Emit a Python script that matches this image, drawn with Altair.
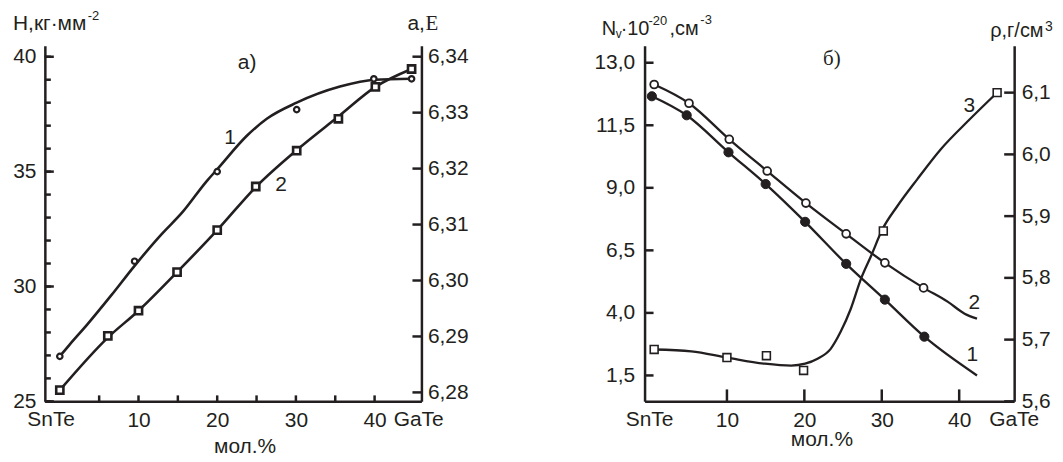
import altair as alt
import pandas as pd

INK = "#231f20"
TICKC = INK
SANS = "Liberation Sans"
SERIF = "Liberation Serif"

# ---------------- panel a) ----------------
a_circ_x = [0, 9.5, 20, 30.1, 39.9, 44.7]
a_circ_H = [26.96, 31.1, 35.0, 37.7, 39.04, 39.04]
a_curve1_x = [0, 1.2, 3.5, 6.5, 9.5, 13, 15.5, 18.7, 20, 23.8, 26.3, 30.1, 35.6, 40, 44.7]
a_curve1_H = [26.96, 27.45, 28.35, 29.6, 30.9, 32.3, 33.2, 34.6, 35.1, 36.57, 37.3, 38.0, 38.7, 39.0, 39.04]
a_sq_x = [0, 6.1, 10, 14.9, 20, 24.9, 30.1, 35.4, 40.1, 44.7]
a_sq_a = [6.2804, 6.2901, 6.2946, 6.3015, 6.3090, 6.3168, 6.3232, 6.3289, 6.3346, 6.3378]
a_curve2_x = [0, 6.1, 10, 14.9, 20, 24.9, 30.1, 35.4, 40.1, 44.7]
a_curve2_a = [6.2804, 6.2898, 6.2946, 6.3015, 6.3090, 6.3167, 6.3233, 6.3293, 6.3346, 6.3378]
a_left_ticks = list(range(25, 41))
a_left_major = [25, 30, 35, 40]
a_right_ticks = [6.28, 6.29, 6.30, 6.31, 6.32, 6.33, 6.34]
a_x_ticks = [5, 10, 15, 20, 25, 30, 35, 40]
a_end_labels = ["SnTe", "GaTe"]
a_end_x = [-1.1, 45.6]

# ---------------- panel б) ----------------
b_open_x = [0.6, 5.1, 10.3, 15.2, 20.2, 25.4, 30.4, 35.4]
b_open_N = [13.13, 12.38, 10.94, 9.67, 8.39, 7.16, 6.0, 5.0]
b_curve2_x = [0.6, 5.1, 10.3, 15.2, 20.2, 25.4, 30.4, 35.4, 38.5, 40.7, 42.3]
b_curve2_N = [13.13, 12.38, 10.94, 9.67, 8.39, 7.16, 6.0, 5.0, 4.45, 3.97, 3.77]
b_fill_x = [0.3, 4.8, 10.2, 15.0, 20.1, 25.4, 30.4, 35.5]
b_fill_N = [12.66, 11.9, 10.42, 9.15, 7.64, 5.96, 4.53, 3.05]
b_curve1_x = [0.3, 4.8, 10.2, 15.0, 20.1, 25.4, 30.4, 35.5, 42.3]
b_curve1_N = [12.66, 11.9, 10.42, 9.15, 7.64, 5.96, 4.53, 3.05, 1.5]
b_sq_x = [0.6, 10.0, 15.1, 19.9, 30.2, 44.9]
b_sq_r = [5.684, 5.671, 5.674, 5.650, 5.876, 6.1]
b_curve3_x = [0.6, 5.4, 10.0, 14.9, 18.3, 20.1, 21.7, 23.4, 24.7, 26.0, 27.3, 28.6, 30.1, 32.0, 34.6, 37.6, 41.3, 44.9]
b_curve3_r = [5.684, 5.681, 5.671, 5.661, 5.658, 5.661, 5.669, 5.685, 5.713, 5.750, 5.798, 5.835, 5.879, 5.916, 5.960, 6.008, 6.056, 6.1]
b_left_ticks = [1.5, 4.0, 6.5, 9.0, 11.5, 14.0]
b_right_ticks = [5.6, 5.7, 5.8, 5.9, 6.0, 6.1]
b_x_ticks = [10, 20, 30, 40]
b_end_labels = ["SnTe", "GaTe"]
b_end_x = [0, 47.1]

A_W, B_W, H = 378, 371, 357
a_x_dom = [-1.9, 45.95]
a_H_dom = [25, 40.48]
a_a_dom = [6.2784, 6.34196]
b_x_dom = [-0.64, 47.1]
b_N_dom = [0.464, 14.68]
b_r_dom = [5.6, 6.176]
TW = 2.5


def comma(dec):
    return f"replace(format(datum.value, '.{dec}f'), '.', ',')"


def axis(values, pad, label_expr, orient, align=None, baseline="middle"):
    kw = dict(values=values, ticks=False, labelPadding=pad,
              labelExpr=label_expr, orient=orient, title=None, grid=False,
              domainColor=INK, domainWidth=TW,
              labelColor=INK, labelFont=SANS, labelFontSize=21,
              labelFlush=False, labelOverlap=False, labelBound=False,
              labelBaseline=baseline)
    if align:
        kw["labelAlign"] = align
    return alt.Axis(**kw)


def xenc(dom, ax):
    return alt.X("x:Q", scale=alt.Scale(domain=dom, nice=False, zero=False), axis=ax)


def yenc(field, dom, ax):
    return alt.Y(f"{field}:Q", scale=alt.Scale(domain=dom, nice=False, zero=False), axis=ax)


def ptext(t, x, y, size=21, font=SANS, align="left"):
    return alt.Chart(pd.DataFrame({"t": [t]})).mark_text(
        font=font, fontSize=size, color=INK, align=align, baseline="alphabetic"
    ).encode(x=alt.value(x), y=alt.value(y), text="t:N")


def hticks(vals, field, yenc_, x0, x1):
    return alt.Chart(pd.DataFrame({field: vals})).mark_rule(
        color=TICKC, strokeWidth=TW).encode(
        y=yenc_, x=alt.value(x0), x2=alt.value(x1))


def vticks(vals, xenc_, y0, y1):
    return alt.Chart(pd.DataFrame({"x": vals})).mark_rule(
        color=TICKC, strokeWidth=TW).encode(
        x=xenc_, y=alt.value(y0), y2=alt.value(y1))


# ---------- panel a ----------
ax_a_x = axis(a_x_ticks, 25, "datum.value % 10 == 0 ? datum.label : ''", "bottom",
              baseline="alphabetic")
ax_a_l = axis(a_left_ticks, 9, "datum.value % 5 == 0 ? datum.label : ''", "left", "right")
ax_a_r = axis(a_right_ticks, 6, comma(2), "right", "left")

XA = lambda: xenc(a_x_dom, ax_a_x)
YA = lambda: yenc("v", a_H_dom, ax_a_l)
WA = lambda: yenc("w", a_a_dom, ax_a_r)

a_c1 = alt.Chart(pd.DataFrame({"x": a_curve1_x, "v": a_curve1_H})).mark_line(
    interpolate="monotone", color=INK, strokeWidth=2.6).encode(x=XA(), y=YA())
a_p1 = alt.Chart(pd.DataFrame({"x": a_circ_x, "v": a_circ_H})).mark_point(
    shape="circle", size=30, filled=True, fill="white", stroke=INK, strokeWidth=2.2, opacity=1
).encode(x=XA(), y=YA())
a_tl_minor = hticks(a_left_ticks, "v", YA(), 0, 6)
a_tl_major = hticks(a_left_major, "v", YA(), 0, 9)
a_tb = vticks(a_x_ticks, XA(), H, H - 6)
a_ends = alt.Chart(pd.DataFrame({"x": a_end_x, "t": a_end_labels})).mark_text(
    font=SANS, fontSize=21, color=INK, baseline="alphabetic").encode(
    x=XA(), y=alt.value(H + 25), text="t:N")

a_texts = [
    ptext("H,кг·мм", -32, -16, 21),
    ptext("-2", 43, -26, 13),
    ptext("a)", 203, 23, 21, align="center"),
    ptext("1", 186, 99, 21, align="center"),
    ptext("2", 237, 146, 21, align="center"),
    ptext("мол.%", 201, 409, 21, align="center"),
    ptext("a,", 364, -16, 21),
    ptext("E", 382, -16, 21, font=SERIF),
]

a_left = alt.layer(a_tl_minor, a_tl_major, a_tb, a_c1, a_p1, a_ends, *a_texts)

a_c2 = alt.Chart(pd.DataFrame({"x": a_curve2_x, "w": a_curve2_a})).mark_line(
    interpolate="monotone", color=INK, strokeWidth=2.6).encode(x=XA(), y=WA())
a_p2 = alt.Chart(pd.DataFrame({"x": a_sq_x, "w": a_sq_a})).mark_point(
    shape="square", size=52, filled=True, fill="white", stroke=INK, strokeWidth=2.6, opacity=1
).encode(x=XA(), y=WA())
a_tr = hticks(a_right_ticks, "w", WA(), A_W, A_W - 9)
a_right = alt.layer(a_tr, a_c2, a_p2)

panel_a = alt.layer(a_left, a_right).resolve_scale(y="independent").properties(width=A_W, height=H)

# ---------- panel б ----------
ax_b_x = axis(b_x_ticks, 25, "datum.label", "bottom", baseline="alphabetic")
ax_b_l = axis(b_left_ticks, 10, "datum.value == 14 ? '13,0' : " + comma(1), "left", "right")
ax_b_r = axis(b_right_ticks, 7, comma(1), "right", "left")

XB = lambda: xenc(b_x_dom, ax_b_x)
YB = lambda: yenc("v", b_N_dom, ax_b_l)
WB = lambda: yenc("w", b_r_dom, ax_b_r)

b_l1 = alt.Chart(pd.DataFrame({"x": b_curve1_x, "v": b_curve1_N})).mark_line(
    interpolate="monotone", color=INK, strokeWidth=2.3).encode(x=XB(), y=YB())
b_l2 = alt.Chart(pd.DataFrame({"x": b_curve2_x, "v": b_curve2_N})).mark_line(
    interpolate="monotone", color=INK, strokeWidth=2.3).encode(x=XB(), y=YB())
b_pf = alt.Chart(pd.DataFrame({"x": b_fill_x, "v": b_fill_N})).mark_point(
    shape="circle", size=85, filled=True, fill=INK, stroke=INK, strokeWidth=1, opacity=1
).encode(x=XB(), y=YB())
b_po = alt.Chart(pd.DataFrame({"x": b_open_x, "v": b_open_N})).mark_point(
    shape="circle", size=62, filled=True, fill="white", stroke=INK, strokeWidth=1.8, opacity=1
).encode(x=XB(), y=YB())
b_tl = hticks(b_left_ticks, "v", YB(), 0, 9)
b_tb = vticks(b_x_ticks, XB(), H, H - 12)
b_ends = alt.Chart(pd.DataFrame({"x": b_end_x, "t": b_end_labels})).mark_text(
    font=SANS, fontSize=21, color=INK, baseline="alphabetic").encode(
    x=XB(), y=alt.value(H + 25), text="t:N")

b_texts = [
    ptext("N", -43, -11, 20),
    ptext("v", -29, -8, 12),
    ptext("·10", -24, -11, 20),
    ptext("-20", 4, -21, 13),
    ptext(",см", 25, -11, 20),
    ptext("-3", 56, -22, 13),
    ptext("б)", 188, 19, 21, font=SERIF, align="center"),
    ptext("3", 326, 67, 21, align="center"),
    ptext("2", 331, 264, 21, align="center"),
    ptext("1", 329, 316, 21, align="center"),
    ptext("мол.%", 178, 402, 21, align="center"),
    ptext("ρ,г/см", 347, -9, 20),
    ptext("3", 402, -15, 14),
]

b_left = alt.layer(b_tl, b_tb, b_l1, b_l2, b_pf, b_po, b_ends, *b_texts)

b_c3 = alt.Chart(pd.DataFrame({"x": b_curve3_x, "w": b_curve3_r})).mark_line(
    interpolate="monotone", color=INK, strokeWidth=2.3).encode(x=XB(), y=WB())
b_p3 = alt.Chart(pd.DataFrame({"x": b_sq_x, "w": b_sq_r})).mark_point(
    shape="square", size=62, filled=True, fill="white", stroke=INK, strokeWidth=1.6, opacity=1
).encode(x=XB(), y=WB())
b_tr = hticks(b_right_ticks, "w", WB(), B_W, B_W - 10)
b_right = alt.layer(b_tr, b_c3, b_p3)

panel_b = alt.layer(b_left, b_right).resolve_scale(y="independent").properties(width=B_W, height=H)

chart = alt.hconcat(panel_a, panel_b, spacing=224, bounds="flush").properties(
    padding={"left": 4, "top": 1, "right": 2, "bottom": 2}, background="white"
).configure_view(stroke=None)

chart.save("out.html", embed_options={"renderer": "svg", "actions": False})
